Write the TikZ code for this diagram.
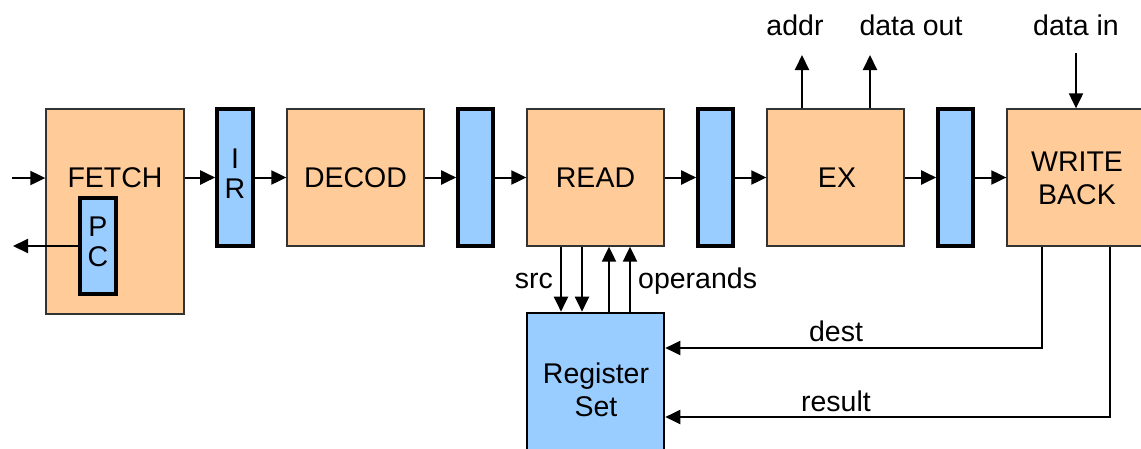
\documentclass[tikz,border=0pt]{standalone}
\usepackage{fontspec}
\setmainfont{Liberation Sans}
\usetikzlibrary{arrows.meta}
\definecolor{stagefill}{HTML}{FFCC99}
\definecolor{regfill}{HTML}{99CCFF}
\begin{document}
\begin{tikzpicture}[x=1pt,y=-1pt,
  stagebox/.style={draw=black!80, line width=1.3pt, fill=stagefill, inner sep=0pt},
  latchbox/.style={draw=black, line width=3.6pt, fill=regfill, inner sep=0pt},
  regbox/.style={draw=black, line width=2.6pt, fill=regfill, inner sep=0pt},
  txt/.style={font=\fontsize{28.5}{33}\selectfont, inner sep=0pt, align=center},
  conn/.style={line width=2pt, -{Triangle[length=15pt,width=14pt]}},
  wire/.style={line width=2pt}
]
\clip (0,0) rectangle (1141,448);
\useasboundingbox (0,0) rectangle (1141,448);

% stages
\node[stagebox, minimum width=138pt, minimum height=205pt] (fetch) at (115,211.5) {};
\node[txt, anchor=base] (fetchlbl) at (115,187) {FETCH};
\node[latchbox, minimum width=36pt, minimum height=96pt] (pc) at (98,246) {};
\node[txt, font=\fontsize{28.5}{30}\selectfont] (pclbl) at (98,241.5) {P\\C};

\node[latchbox, minimum width=36pt, minimum height=137pt] (ir) at (235,177.5) {};
\node[txt, font=\fontsize{28.5}{30}\selectfont] (irlbl) at (235,173.5) {I\\R};

\node[stagebox, minimum width=137pt, minimum height=137pt] (decod) at (355.5,177.5) {};
\node[txt, anchor=base] (decodlbl) at (355.5,187) {DECOD};

\node[latchbox, minimum width=35pt, minimum height=137pt] (l2) at (475.5,177.5) {};

\node[stagebox, minimum width=137pt, minimum height=137pt] (read) at (595.5,177.5) {};
\node[txt, anchor=base] (readlbl) at (595.5,187) {READ};

\node[latchbox, minimum width=35pt, minimum height=137pt] (l3) at (715.5,177.5) {};

\node[stagebox, minimum width=137pt, minimum height=137pt] (ex) at (835.5,177.5) {};
\node[txt, anchor=base] (exlbl) at (837,187) {EX};

\node[latchbox, minimum width=35pt, minimum height=137pt] (l4) at (955.5,177.5) {};

\node[stagebox, minimum width=143pt, minimum height=137pt] (wb) at (1078.5,177.5) {};
\node[txt] (wblbl) at (1077,178.5) {WRITE\\BACK};

\node[regbox, minimum width=137pt, minimum height=157pt] (reg) at (595.5,391.5) {};
\node[txt] (reglbl) at (596,390) {Register\\Set};

% pipeline connectors
\coordinate (in) at (12,178);
\coordinate (out) at (13,246);
\draw[conn] (in) -- (in -| fetch.west);
\draw[conn] (pc.west) -- (out);
\draw[conn] (fetch.east |- ir.west) -- (ir.west);
\draw[conn] (ir.east) -- (decod.west);
\draw[conn] (decod.east) -- (l2.west);
\draw[conn] (l2.east) -- (read.west);
\draw[conn] (read.east) -- (l3.west);
\draw[conn] (l3.east) -- (ex.west);
\draw[conn] (ex.east) -- (l4.west);
\draw[conn] (l4.east) -- (wb.west);

% memory ports
\coordinate (addrtip) at (802,55);
\coordinate (douttip) at (870,55);
\coordinate (dinstart) at (1076,53);
\draw[conn] (ex.north -| addrtip) -- (addrtip);
\draw[conn] (ex.north -| douttip) -- (douttip);
\draw[conn] (dinstart) -- (wb.north -| dinstart);
\node[txt, anchor=base] (addrlbl) at (795,35) {addr};
\node[txt, anchor=base] (doutlbl) at (911,35) {data out};
\node[txt, anchor=base] (dinlbl) at (1076,35) {data in};

% register file connectors
\coordinate (s1) at (561,0);
\coordinate (s2) at (582,0);
\coordinate (o1) at (609,0);
\coordinate (o2) at (630,0);
\draw[conn] (read.south -| s1) -- (reg.north -| s1);
\draw[conn] (read.south -| s2) -- (reg.north -| s2);
\draw[conn] (reg.north -| o1) -- (read.south -| o1);
\draw[conn] (reg.north -| o2) -- (read.south -| o2);
\node[txt, anchor=base east] (srclbl) at (553,288) {src};
\node[txt, anchor=base west] (oplbl) at (638,288) {operands};

\coordinate (dcorner) at (1042,348);
\coordinate (rcorner) at (1110,417);
\draw[conn] (wb.south -| dcorner) |- (reg.east |- dcorner);
\draw[conn] (wb.south -| rcorner) |- (reg.east |- rcorner);
\node[txt, anchor=base] (destlbl) at (836,341) {dest};
\node[txt, anchor=base] (resultlbl) at (836,411) {result};
\end{tikzpicture}
\end{document}
